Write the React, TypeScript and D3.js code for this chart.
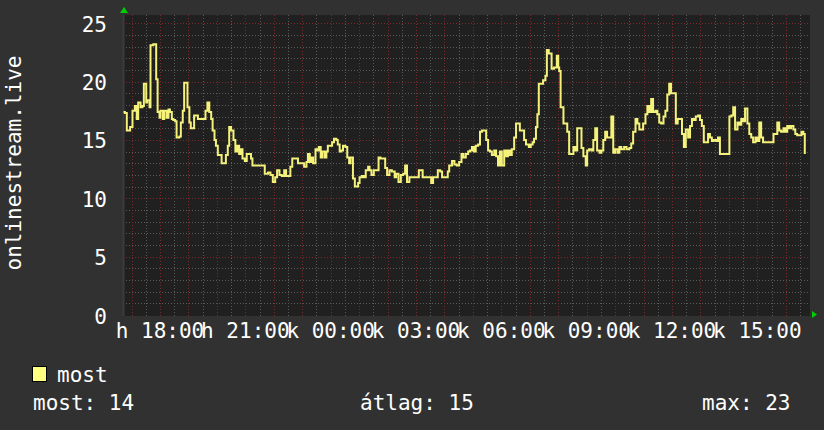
import React, { useEffect, useRef } from 'react'
import * as d3 from 'd3'

// 24h window (starts monday 16:42)
const startTime = new Date(2024, 0, 1, 16, 42)
const spanMinutes = 1449
const dayNames = ['v', 'h', 'k', 'sze', 'cs', 'p', 'szo']
const axisTitle = 'onlinestream.live'
const seriesName = 'most'
const statLabels = ['most', 'átlag', 'max']

// minutes after start
const sampleMinutes = [
  1, 4, 8, 15, 20, 25, 29, 32, 37, 41, 44, 49, 51, 56, 58, 64, 67, 70, 73, 77, 79, 84, 87, 92, 96, 99, 103, 106, 110, 113,
  119, 122, 126, 129, 133, 136, 140, 143, 147, 150, 154, 158, 162, 169, 174, 178, 182, 186, 189, 193, 196, 200, 205, 208,
  213, 217, 221, 224, 228, 233, 237, 241, 245, 248, 252, 257, 261, 266, 270, 273, 282,
  285, 295, 299, 306, 311, 316, 321, 325, 330, 335, 340, 344, 349, 353, 357, 363, 369, 376, 382, 387, 390, 394, 397, 401,
  406, 410, 413, 417, 420, 425, 429, 432, 437, 441, 445, 450, 453, 457, 460, 464, 469, 473, 477, 480, 485, 489, 492, 496,
  499, 504, 508, 512, 517, 520, 524, 529, 534, 539, 543, 548, 553, 557, 562, 567, 573,
  576, 581, 586, 591, 595, 599, 604, 611, 618, 624, 628, 632, 639, 646, 650, 654, 660, 664, 669, 673, 680, 685, 688, 694,
  699, 704, 709, 714, 718, 723, 728, 732, 736, 740, 744, 749, 753, 757, 762, 766, 770, 774, 778, 783, 787, 791, 795, 799,
  804, 808, 812, 816, 820, 825, 829, 833, 837, 841, 846, 850, 856, 860, 864, 867, 871,
  874, 877, 882, 886, 891, 894, 898, 904, 909, 915, 918, 920, 923, 929, 934, 937, 941, 946, 950, 954, 958, 962, 967, 971,
  976, 979, 983, 988, 992, 996, 1000, 1005, 1009, 1013, 1017, 1021, 1026, 1030, 1034, 1038, 1043, 1047, 1051, 1057, 1062,
  1068, 1072, 1076, 1081, 1085, 1089, 1093, 1097, 1102, 1106, 1110, 1114, 1118, 1123, 1127, 1131, 1135, 1140, 1144, 1148,
  1152, 1156, 1161,
  1163, 1166, 1170, 1175, 1179, 1183, 1187, 1192, 1196, 1200, 1204, 1208, 1213, 1217, 1221, 1225, 1230, 1234, 1238, 1242,
  1246, 1251, 1255, 1259, 1263, 1270, 1275, 1279, 1283, 1287, 1291, 1296, 1300, 1304, 1308, 1312, 1317, 1321, 1325, 1329,
  1334, 1338, 1342, 1346, 1350, 1355, 1362, 1367, 1372, 1376, 1380, 1384, 1388, 1393, 1397, 1401, 1405, 1409, 1414, 1418,
  1422, 1426, 1431, 1435, 1438,
]

const onlineCount = [
  17.4, 17.3, 15.8, 16.1, 17.5, 17.9, 16.8, 18.2, 17.8, 17.9, 19.8, 18.2, 18.4, 17.8, 23.1, 23.2, 23.2, 20.2, 17.4, 16.9,
  17.5, 16.8, 17.5, 16.9, 17.6, 17.4, 16.8, 16.7, 16.6, 15.2, 15.3, 16.5, 17.5, 19.9, 19.9, 17.8, 16.5, 16.0, 16.0, 17.1,
  17.1, 16.8, 16.8, 16.8, 17.5, 18.2, 17.4, 16.8, 15.8, 15.0, 14.5, 13.7, 13.7, 13.0, 13.0, 13.7, 14.5, 16.1, 15.8, 15.0,
  14.0, 14.5, 13.8, 14.2, 13.4, 13.2, 13.8, 13.8, 13.4, 12.8, 12.8,
  12.8, 12.8, 12.1, 12.2, 12.0, 11.4, 11.8, 12.4, 12.0, 11.9, 12.4, 11.9, 11.9, 12.7, 13.4, 13.4, 13.0, 13.0, 12.7, 13.1,
  13.8, 13.1, 13.5, 13.0, 14.2, 14.1, 14.4, 13.5, 14.0, 13.5, 14.0, 14.5, 14.5, 14.8, 15.1, 15.0, 14.6, 14.0, 14.1, 14.5,
  14.4, 13.5, 13.0, 13.5, 11.7, 11.0, 11.0, 11.3, 11.8, 11.9, 11.8, 12.4, 12.7, 12.4, 12.0, 12.4, 12.4, 13.5, 13.4, 13.4,
  12.6, 12.0, 12.4, 12.3, 11.8,
  12.1, 11.4, 12.0, 12.1, 12.8, 11.4, 11.8, 11.8, 11.8, 12.4, 12.4, 11.8, 11.8, 11.8, 11.3, 11.8, 11.8, 12.4, 12.3, 11.8,
  11.8, 12.3, 12.8, 13.2, 12.9, 12.8, 13.1, 13.8, 13.5, 13.8, 14.0, 14.1, 14.4, 14.0, 14.5, 14.6, 15.7, 15.8, 15.8, 15.0,
  14.1, 14.0, 13.7, 14.1, 13.6, 12.8, 14.0, 12.8, 14.1, 13.6, 14.1, 13.7, 14.2, 15.2, 16.4, 16.4, 15.8, 15.8, 15.0, 14.6,
  14.4, 14.6, 14.8, 15.1, 16.1,
  17.2, 19.8, 19.8, 20.1, 20.5, 22.7, 22.4, 21.1, 21.2, 22.2, 21.2, 20.9, 17.8, 16.4, 16.4, 15.7, 13.8, 13.8, 14.4, 14.1,
  16.0, 16.0, 14.3, 13.6, 12.8, 14.1, 14.2, 14.1, 15.0, 16.0, 14.1, 13.9, 14.1, 15.0, 15.7, 15.2, 15.2, 17.0, 13.9, 14.2,
  13.9, 14.4, 14.2, 14.4, 14.2, 14.3, 14.7, 15.7, 16.8, 16.4, 15.9, 15.9, 16.4, 17.2, 17.9, 17.4, 18.5, 17.4, 17.5, 17.2,
  16.5, 16.4, 17.0, 17.5, 18.9, 19.8, 19.0, 19.0,
  19.0, 16.4, 16.8, 16.8, 15.5, 14.4, 15.9, 15.2, 16.2, 16.8, 16.7, 17.0, 17.1, 16.7, 16.2, 14.8, 14.8, 15.5, 15.2, 14.9,
  15.0, 14.9, 15.2, 13.8, 13.8, 13.8, 13.8, 17.0, 17.1, 17.8, 15.9, 16.5, 16.3, 16.8, 16.6, 17.7, 16.4, 15.5, 15.2, 14.8,
  15.2, 14.9, 16.5, 15.2, 14.8, 14.8, 14.8, 14.8, 15.5, 15.5, 16.5, 15.8, 15.7, 16.0, 15.7, 16.2, 16.0, 16.2, 15.9, 15.5,
  15.4, 15.4, 15.7, 15.5, 13.8,
]

const FONT = '"DejaVu Sans Mono", monospace'

export default function App() {
  const ref = useRef<SVGSVGElement>(null)

  useEffect(() => {
    document.body.style.margin = '0'
    const svg = d3.select(ref.current)
    svg.selectAll('*').remove()

    const left = 123, right = 810, top = 15, bottom = 316

    const endTime = d3.timeMinute.offset(startTime, spanMinutes)
    const x = d3.scaleTime().domain([startTime, endTime]).range([left, right])
    const y = d3.scaleLinear().domain([0, 25.7]).range([315, 15])

    const data = sampleMinutes.map((m, i) => ({
      t: d3.timeMinute.offset(startTime, m),
      v: onlineCount[i],
    }))

    svg.append('rect').attr('width', 824).attr('height', 430).attr('fill', '#313131')
    svg.append('rect')
      .attr('x', left).attr('y', top)
      .attr('width', right - left).attr('height', bottom - top)
      .attr('fill', '#202020')

    const grid = svg.append('g')
    // minor grid
    d3.range(0, 26).filter(v => v % 5 !== 0).forEach(v => {
      grid.append('line')
        .attr('x1', left).attr('x2', right)
        .attr('y1', Math.round(y(v)) + 0.5).attr('y2', Math.round(y(v)) + 0.5)
        .attr('stroke', '#5a5a5a').attr('stroke-dasharray', '1,2')
    })
    x.ticks(d3.timeMinute.every(30)!).filter(d => d.getMinutes() !== 0).forEach(d => {
      grid.append('line')
        .attr('x1', Math.round(x(d)) + 0.5).attr('x2', Math.round(x(d)) + 0.5)
        .attr('y1', top).attr('y2', bottom + 2)
        .attr('stroke', '#5a5a5a').attr('stroke-dasharray', '1,2')
    })
    // major grid
    y.ticks(5).filter(v => v > 0).forEach(v => {
      grid.append('line')
        .attr('x1', left).attr('x2', right)
        .attr('y1', Math.round(y(v)) + 0.5).attr('y2', Math.round(y(v)) + 0.5)
        .attr('stroke', '#7a2a2a').attr('stroke-dasharray', '1,2')
    })
    x.ticks(d3.timeHour.every(1)!).forEach(d => {
      grid.append('line')
        .attr('x1', Math.round(x(d)) + 0.5).attr('x2', Math.round(x(d)) + 0.5)
        .attr('y1', top).attr('y2', bottom + 2)
        .attr('stroke', '#7a2a2a').attr('stroke-dasharray', '1,2')
    })

    // axis lines
    svg.append('line').attr('x1', left + 0.5).attr('x2', left + 0.5).attr('y1', top).attr('y2', bottom)
      .attr('stroke', '#3c3c3c').attr('stroke-width', 2)

    // the series
    const line = d3.line<{ t: Date; v: number }>()
      .x(d => x(d.t))
      .y(d => y(d.v))
      .curve(d3.curveStepAfter)
    svg.append('path')
      .datum(data)
      .attr('d', line)
      .attr('fill', 'none')
      .attr('stroke', '#f4f27a')
      .attr('stroke-width', 2)

    // arrows
    svg.append('path').attr('d', `M${left - 3},13 L${left + 1},7 L${left + 5},13 Z`).attr('fill', '#00d000')
    svg.append('path').attr('d', `M${right + 2},311 L${right + 7},314.5 L${right + 2},318 Z`).attr('fill', '#00d000')

    // y tick labels
    svg.append('g').selectAll('text')
      .data(y.ticks(5))
      .join('text')
      .attr('x', 107)
      .attr('y', d => y(d) + 8.5)
      .attr('text-anchor', 'end')
      .attr('font-family', FONT).attr('font-size', 21)
      .attr('fill', '#fff')
      .text(d => d)

    // x tick labels
    const hm = d3.timeFormat('%H:%M')
    svg.append('g').selectAll('text')
      .data(x.ticks(d3.timeHour.every(3)!))
      .join('text')
      .attr('x', d => x(d))
      .attr('y', 338)
      .attr('text-anchor', 'middle')
      .attr('font-family', FONT).attr('font-size', 21)
      .attr('fill', '#fff')
      .text(d => dayNames[d.getDay()] + ' ' + hm(d))

    // axis title
    svg.append('text')
      .attr('transform', 'translate(14,163) rotate(-90)')
      .attr('text-anchor', 'middle')
      .attr('dominant-baseline', 'central')
      .attr('font-family', FONT).attr('font-size', 21)
      .attr('fill', '#fff')
      .text(axisTitle)

    // legend
    svg.append('rect')
      .attr('x', 32.5).attr('y', 366.5).attr('width', 14).attr('height', 15)
      .attr('fill', '#ffff80').attr('stroke', '#000')
    svg.append('text')
      .attr('x', 57).attr('y', 382)
      .attr('font-family', FONT).attr('font-size', 21).attr('fill', '#fff')
      .text(seriesName)

    const f = d3.format('.0f')
    const stats = [
      onlineCount[onlineCount.length - 1],
      d3.mean(onlineCount) as number,
      d3.max(onlineCount) as number,
    ]
    const statX = [33, 360, 702]
    statLabels.forEach((lab, i) => {
      svg.append('text')
        .attr('x', statX[i]).attr('y', 410)
        .attr('font-family', FONT).attr('font-size', 21).attr('fill', '#fff')
        .text(`${lab}: ${f(stats[i])}`)
    })
  }, [])

  return <svg ref={ref} width={824} height={430} style={{ display: 'block' }} />
}
